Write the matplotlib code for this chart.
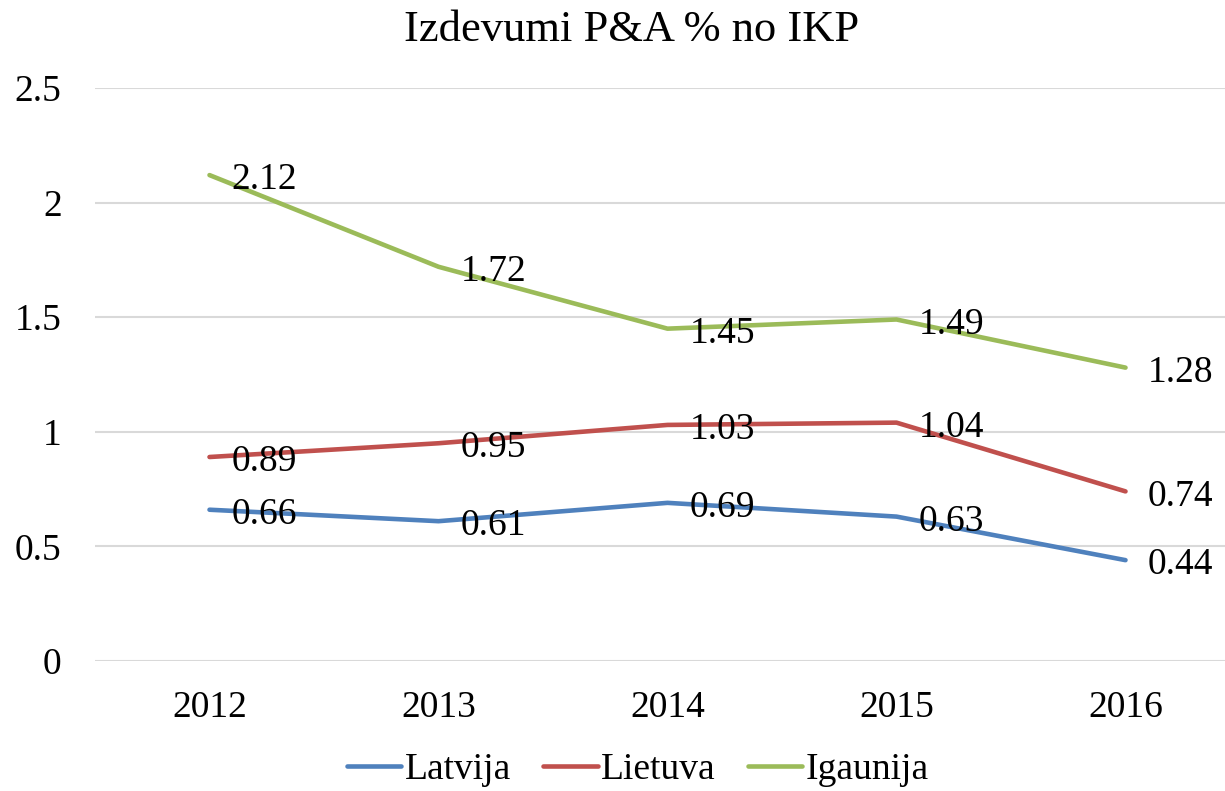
import matplotlib.pyplot as plt

years = ['2012', '2013', '2014', '2015', '2016']
latvija = [0.66, 0.61, 0.69, 0.63, 0.44]
lietuva = [0.89, 0.95, 1.03, 1.04, 0.74]
igaunija = [2.12, 1.72, 1.45, 1.49, 1.28]
yticks = [0, 0.5, 1, 1.5, 2, 2.5]
ylabels = ['0', '0.5', '1', '1.5', '2', '2.5']

plt.rcParams['font.family'] = ['Liberation Serif', 'DejaVu Serif']

fig = plt.figure(figsize=(12.25, 7.91), dpi=100)
ax = fig.add_axes([95 / 1225, 1 - 661 / 791, 1145 / 1225, (661 - 88) / 791])

series = [('Latvija', latvija, '#4F81BD'),
          ('Lietuva', lietuva, '#C0504D'),
          ('Igaunija', igaunija, '#9BBB59')]
x = list(range(len(years)))
for name, vals, col in series:
    ax.plot(x, vals, color=col, lw=3.3, label=name, solid_capstyle='round')
    for xi, v in zip(x, vals):
        ax.annotate(f'{v:.2f}', (xi, v), xytext=(16, -3.5), textcoords='offset points',
                    ha='left', va='center', fontsize=27, color='black')

ax.set_xlim(-0.5, 4.5)
ax.set_ylim(0, 2.5)
ax.set_xticks(x)
ax.set_xticklabels(years, fontsize=27)
ax.set_yticks(yticks)
ax.set_yticklabels(ylabels, fontsize=27)
ax.tick_params(length=0)
ax.tick_params(axis='y', pad=24)
ax.tick_params(axis='x', pad=21)
ax.grid(axis='y', color='#d9d9d9', lw=1.5)
ax.set_axisbelow(True)
for s in ax.spines.values():
    s.set_visible(False)

fig.text(632 / 1225, 1 - 30 / 791, 'Izdevumi P&A % no IKP', ha='center', va='center', fontsize=32)
fig.legend(loc='center', bbox_to_anchor=(638 / 1225, 1 - 770 / 791), ncol=3, frameon=False,
           fontsize=27, handlelength=1.45, handletextpad=0.1, columnspacing=0.85)

fig.savefig('out.png', dpi=100)
